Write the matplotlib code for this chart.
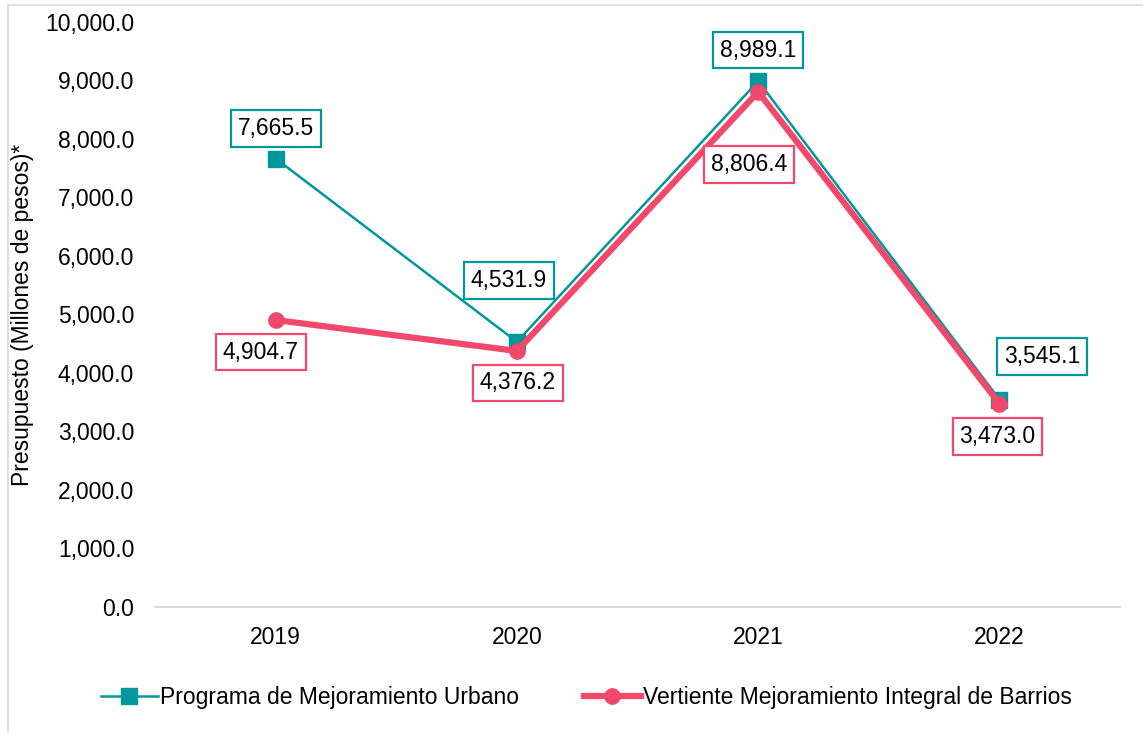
import matplotlib.pyplot as plt
from matplotlib.patches import Rectangle
from matplotlib.ticker import FuncFormatter

plt.rcParams['font.family'] = ['Liberation Sans', 'DejaVu Sans']

years = ['2019', '2020', '2021', '2022']
urbano = [7665.5, 4531.9, 8989.1, 3545.1]
barrios = [4904.7, 4376.2, 8806.4, 3473.0]

teal = '#00979F'
pink = '#F2486C'

# label offsets in pixels (dx, dy)
off_urbano = [(0, 30), (-8, 61), (0, 31), (43, 43)]
off_barrios = [(-15, -32), (1, -32), (-9, -73), (-2, -33)]

fig = plt.figure(figsize=(11.43, 7.33), dpi=100)
ax = fig.add_axes([0.1356, 0.172, 0.8444, 0.798])

fig.patches.append(Rectangle((0.007, -0.01), 1.0, 1.003, transform=fig.transFigure,
                             fill=False, edgecolor='#d9d9d9', linewidth=1.2))

x = list(range(len(years)))
ax.plot(x, urbano, color=teal, lw=1.8, marker='s', ms=11, zorder=3,
        label='Programa de Mejoramiento Urbano')
ax.plot(x, barrios, color=pink, lw=4.5, marker='o', ms=11, zorder=4,
        label='Vertiente Mejoramiento Integral de Barrios')

def put_labels(vals, offs, col):
  for i, v in enumerate(vals):
    ax.annotate(f'{v:,.1f}', (i, v), xytext=offs[i], textcoords='offset pixels',
                ha='center', va='center', fontsize=16.5, zorder=6,
                bbox=dict(boxstyle='square,pad=0.3', fc='white', ec=col, lw=1.6))

put_labels(urbano, off_urbano, teal)
put_labels(barrios, off_barrios, pink)

ax.set_xlim(-0.5, 3.5)
ax.set_ylim(0, 10000)
ax.set_yticks(range(0, 10001, 1000))
ax.yaxis.set_major_formatter(FuncFormatter(lambda v, p: f'{v:,.1f}'))
ax.set_xticks(x)
ax.set_xticklabels(years)
ax.tick_params(axis='both', length=0, labelsize=16.5)
ax.tick_params(axis='y', pad=15)
ax.tick_params(axis='x', pad=14)
for s in ['top', 'right', 'left']:
  ax.spines[s].set_visible(False)
ax.spines['bottom'].set_color('#d9d9d9')
ax.spines['bottom'].set_linewidth(1.5)
ax.set_ylabel('Presupuesto (Millones de pesos)*', fontsize=16.5, labelpad=8)

ax.legend(loc='center', bbox_to_anchor=(0.447, -0.155), ncol=2, frameon=False,
          fontsize=16.5, handlelength=2.5, handletextpad=0.1, columnspacing=2.8)

fig.savefig('out.png', dpi=100)
